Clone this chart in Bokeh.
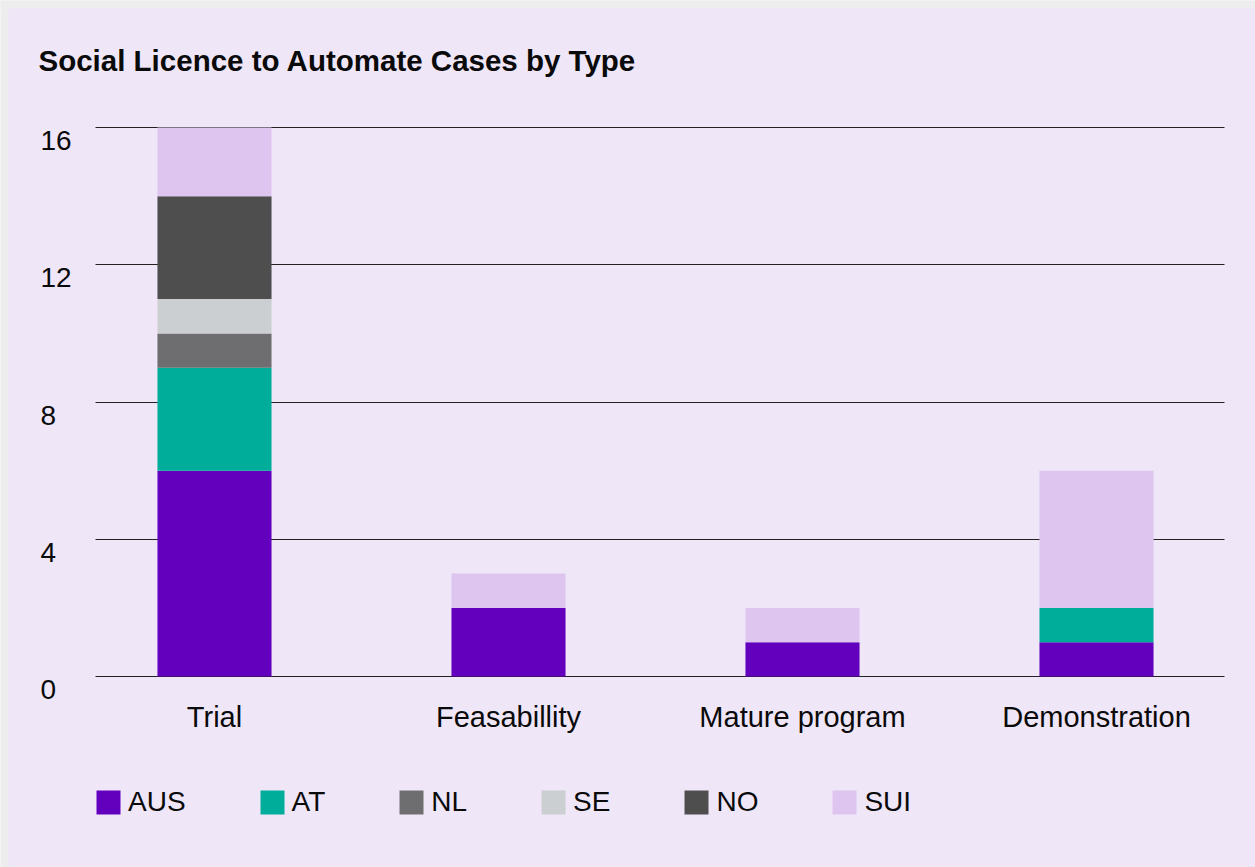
from bokeh.plotting import figure
from bokeh.models import (ColumnDataSource, FixedTicker, Legend, LegendItem, Label, Range1d,
                          Grid, BoxAnnotation)
from bokeh.core.properties import value
from bokeh.embed import file_html
from bokeh.resources import INLINE

# ---- data ----
categories = ["Trial", "Feasabillity", "Mature program", "Demonstration"]
countries = ["AUS", "AT", "NL", "SE", "NO", "SUI"]
aus = [6, 2, 1, 1]
at = [3, 0, 0, 1]
nl = [1, 0, 0, 0]
se = [1, 0, 0, 0]
no = [3, 0, 0, 0]
sui = [2, 1, 1, 4]
y_ticks = [0, 4, 8, 12, 16]
colors = ["#6200BE", "#00AD9A", "#6E6E70", "#CBCFD1", "#4E4E4E", "#DDC5F0"]
title_text = "Social Licence to Automate Cases by Type"

FONT = "Liberation Sans"
BG = "#EFE6F8"
PAGE = "#EDEDED"
TXT = "#0A0A0A"

# ---- layout geometry (pixels) ----
W, H = 1255, 867
PX_PER_CAT = 294.0          # horizontal distance between category centres
FIRST_CENTRE = 214.0        # x of first category centre
PX_PER_UNIT = 549.0 / 16    # vertical pixels per case
ZERO_Y = 676.0              # y of the zero line (from top)
PLOT_LEFT, PLOT_RIGHT = 95.0, 1224.0
MARGIN = 8.0

x_start = -FIRST_CENTRE / PX_PER_CAT
x_end = (W - FIRST_CENTRE) / PX_PER_CAT
y_end = ZERO_Y / PX_PER_UNIT
y_start = -(H - ZERO_Y) / PX_PER_UNIT

xpos = list(range(len(categories)))
source = ColumnDataSource(dict(x=xpos, AUS=aus, AT=at, NL=nl, SE=se, NO=no, SUI=sui))

p = figure(width=W, height=H, output_backend="svg", toolbar_location=None,
           x_range=Range1d(x_start, x_end), y_range=Range1d(y_start, y_end),
           x_axis_location=None, y_axis_location=None, min_border=0)
p.background_fill_color = BG
p.border_fill_color = BG
p.outline_line_color = None
for g in p.grid:
    g.visible = False

# page margin strips (top and left)
p.add_layout(BoxAnnotation(left=x_start, right=x_end, bottom=y_end - MARGIN / PX_PER_UNIT, top=y_end,
                           fill_color=PAGE, fill_alpha=1, line_color=None, level="underlay"))
p.add_layout(BoxAnnotation(left=x_start, right=x_start + MARGIN / PX_PER_CAT, bottom=y_start, top=y_end,
                           fill_color=PAGE, fill_alpha=1, line_color=None, level="underlay"))

grid = Grid(dimension=1, ticker=FixedTicker(ticks=y_ticks),
            grid_line_color="#222222", grid_line_width=1)
grid.cross_bounds = ((PLOT_LEFT - FIRST_CENTRE) / PX_PER_CAT, (PLOT_RIGHT - FIRST_CENTRE) / PX_PER_CAT)
p.add_layout(grid)

renderers = p.vbar_stack(countries, x="x", width=0.388, color=colors, line_color=None, source=source)

# category labels under the bars
cat_src = ColumnDataSource(dict(x=xpos, y=[0] * len(xpos), text=categories))
p.text(x="x", y="y", text="text", source=cat_src, y_offset=40,
       text_font=value(FONT), text_font_size="29px", text_color=TXT,
       text_align="center", text_baseline="alphabetic")

# y tick labels (left-aligned, below gridlines)
for t in y_ticks:
    p.add_layout(Label(x=40, y=t, x_units="screen", y_units="data", y_offset=-13,
                       text=str(t), text_font=FONT, text_font_size="28px",
                       text_color=TXT, text_align="left", text_baseline="alphabetic"))

# title
p.add_layout(Label(x=38, y=H - 60, x_units="screen", y_units="screen", text=title_text,
                   text_font=FONT, text_font_size="29.5px", text_font_style="bold",
                   text_color=TXT, text_align="left", text_baseline="alphabetic"))

# legend
items = [LegendItem(label=c, renderers=[r]) for c, r in zip(countries, renderers)]
legend = Legend(items=items, orientation="horizontal", location=(93, 49),
                padding=0, margin=0, spacing=71, label_standoff=5,
                glyph_width=30, glyph_height=30,
                label_text_font=FONT, label_text_font_size="28px", label_text_color=TXT,
                background_fill_alpha=0, border_line_alpha=0)
p.add_layout(legend, "center")

html = file_html(p, INLINE)
open("out.html", "w").write(html)
